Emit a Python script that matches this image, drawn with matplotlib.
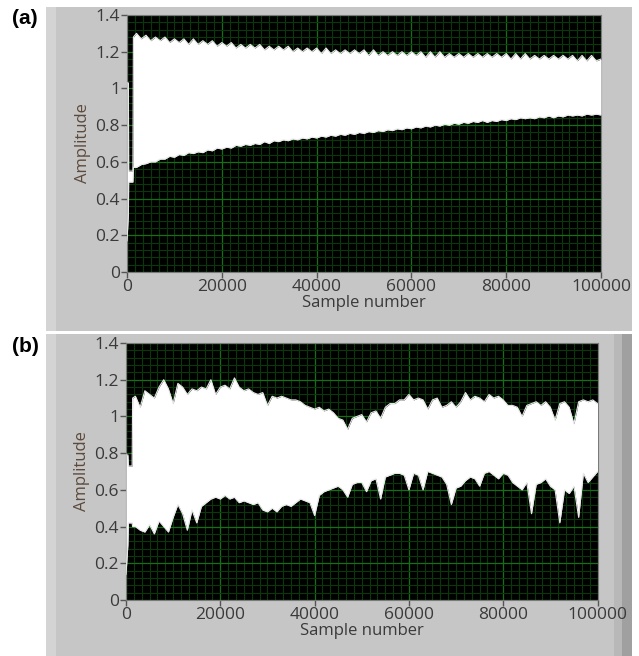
import matplotlib
matplotlib.use("Agg")
import matplotlib.pyplot as plt
from matplotlib.patches import Rectangle
from matplotlib.ticker import MultipleLocator

# panel (a): start-up transient, then samples every 1000 from 2000 on
a_head_x = [0, 300, 350, 1250, 1350]
a_head_up = [1.03, 1.03, 0.55, 0.55, 1.28]
a_head_lo = [0.17, 0.32, 0.49, 0.49, 0.57]
a_upper = [1.30, 1.27, 1.29, 1.26, 1.28, 1.26, 1.28, 1.25, 1.27, 1.25,
           1.27, 1.24, 1.27, 1.24, 1.26, 1.24, 1.26, 1.23, 1.25, 1.23,
           1.25, 1.22, 1.24, 1.22, 1.24, 1.22, 1.24, 1.21, 1.23, 1.21,
           1.23, 1.21, 1.23, 1.20, 1.22, 1.20, 1.22, 1.20, 1.22, 1.19,
           1.22, 1.19, 1.21, 1.19, 1.21, 1.19, 1.21, 1.19, 1.21, 1.18,
           1.21, 1.18, 1.20, 1.18, 1.20, 1.18, 1.20, 1.18, 1.20, 1.18,
           1.20, 1.17, 1.20, 1.17, 1.20, 1.17, 1.19, 1.17, 1.19, 1.17,
           1.19, 1.17, 1.19, 1.17, 1.19, 1.17, 1.19, 1.17, 1.19, 1.16,
           1.19, 1.16, 1.19, 1.16, 1.18, 1.16, 1.18, 1.16, 1.18, 1.16,
           1.18, 1.16, 1.18, 1.15, 1.18, 1.15, 1.18, 1.15, 1.16]
a_lower = [0.57, 0.585, 0.59, 0.60, 0.60, 0.615, 0.615, 0.63, 0.625, 0.64,
           0.635, 0.65, 0.645, 0.655, 0.65, 0.665, 0.66, 0.675, 0.67, 0.68,
           0.675, 0.69, 0.685, 0.695, 0.69, 0.70, 0.695, 0.71, 0.70, 0.715,
           0.71, 0.72, 0.715, 0.725, 0.72, 0.73, 0.725, 0.735, 0.73, 0.74,
           0.735, 0.745, 0.74, 0.75, 0.745, 0.755, 0.75, 0.76, 0.755, 0.765,
           0.76, 0.77, 0.765, 0.775, 0.77, 0.78, 0.775, 0.785, 0.78, 0.79,
           0.785, 0.795, 0.79, 0.80, 0.795, 0.805, 0.80, 0.81, 0.805, 0.815,
           0.81, 0.82, 0.815, 0.825, 0.815, 0.825, 0.82, 0.83, 0.825, 0.835,
           0.83, 0.84, 0.835, 0.84, 0.835, 0.845, 0.84, 0.85, 0.84, 0.85,
           0.845, 0.855, 0.85, 0.855, 0.85, 0.86, 0.855, 0.86, 0.855]

# panel (b)
b_head_x = [0, 400, 500, 1300, 1400]
b_head_up = [0.79, 0.79, 0.73, 0.73, 1.10]
b_head_lo = [0.14, 0.30, 0.42, 0.42, 0.40]
b_upper = [1.11, 1.05, 1.14, 1.12, 1.10, 1.16, 1.20, 1.15, 1.07, 1.18,
           1.16, 1.12, 1.15, 1.14, 1.16, 1.15, 1.20, 1.12, 1.16, 1.17,
           1.15, 1.21, 1.16, 1.14, 1.15, 1.13, 1.12, 1.13, 1.06, 1.11,
           1.10, 1.11, 1.10, 1.09, 1.09, 1.08, 1.06, 1.05, 1.04, 1.05,
           1.03, 1.04, 1.02, 0.99, 0.98, 0.93, 0.99, 1.00, 1.01, 0.97,
           1.02, 1.03, 0.99, 1.05, 1.07, 1.07, 1.09, 1.09, 1.12, 1.09,
           1.10, 1.09, 1.04, 1.09, 1.10, 1.05, 1.06, 1.08, 1.05, 1.08,
           1.13, 1.09, 1.11, 1.10, 1.08, 1.12, 1.10, 1.11, 1.09, 1.06,
           1.06, 1.05, 1.00, 1.06, 1.07, 1.08, 1.06, 1.08, 1.05, 0.98,
           1.07, 1.08, 1.05, 0.96, 1.08, 1.09, 1.08, 1.09, 1.07]
b_lower = [0.40, 0.38, 0.37, 0.41, 0.36, 0.43, 0.40, 0.37, 0.45, 0.52,
           0.47, 0.38, 0.49, 0.42, 0.51, 0.53, 0.55, 0.56, 0.55, 0.57,
           0.55, 0.56, 0.53, 0.54, 0.53, 0.52, 0.53, 0.49, 0.48, 0.50,
           0.48, 0.51, 0.52, 0.51, 0.53, 0.55, 0.54, 0.53, 0.46, 0.57,
           0.59, 0.60, 0.61, 0.62, 0.60, 0.56, 0.63, 0.64, 0.64, 0.59,
           0.65, 0.66, 0.55, 0.67, 0.68, 0.69, 0.69, 0.68, 0.60, 0.69,
           0.68, 0.60, 0.70, 0.69, 0.68, 0.67, 0.63, 0.52, 0.61, 0.62,
           0.65, 0.67, 0.66, 0.62, 0.69, 0.70, 0.68, 0.66, 0.69, 0.68,
           0.64, 0.62, 0.60, 0.64, 0.47, 0.63, 0.64, 0.66, 0.62, 0.60,
           0.42, 0.60, 0.58, 0.62, 0.45, 0.69, 0.64, 0.67, 0.70]

step = 1000
a_x = a_head_x + [2000 + i * step for i in range(len(a_upper))]
a_up = a_head_up + a_upper
a_lo = a_head_lo + a_lower
b_x = b_head_x + [2000 + i * step for i in range(len(b_upper))]
b_up = b_head_up + b_upper
b_lo = b_head_lo + b_lower

W, H = 639, 656
plt.rcParams['font.family'] = ['Open Sans', 'DejaVu Sans']
fig = plt.figure(figsize=(W / 100, H / 100), dpi=100)
fig.patch.set_facecolor('white')


def px_rect(x0, y0, x1, y1, color):
    # rectangle given in pixels from the top-left corner
    fig.add_artist(Rectangle((x0 / W, 1 - y1 / H), (x1 - x0) / W, (y1 - y0) / H,
                             transform=fig.transFigure, facecolor=color,
                             edgecolor='none', zorder=0))


# LabVIEW style gray frames
px_rect(46, 7, 632, 331, '#c6c6c6')
px_rect(46, 7, 56, 331, '#d4d4d4')
px_rect(46, 334, 632, 656, '#c6c6c6')
px_rect(46, 334, 56, 656, '#d4d4d4')
px_rect(614, 334, 622, 656, '#b8b8b8')
px_rect(622, 334, 632, 656, '#a0a0a0')

tick_col = '#3a3a3a'


def panel(rect, xs, up, lo):
    ax = fig.add_axes(rect)
    ax.set_facecolor('black')
    ax.fill_between(xs, lo, up, color='white', lw=0, zorder=3)
    ax.plot(xs, up, color='#e8e8e8', lw=0.8, zorder=4)
    ax.plot(xs, lo, color='#e8e8e8', lw=0.8, zorder=4)
    ax.set_xlim(0, 100000)
    ax.set_ylim(0, 1.4)
    ax.xaxis.set_major_locator(MultipleLocator(20000))
    ax.xaxis.set_minor_locator(MultipleLocator(20000 / 12))
    ax.yaxis.set_major_locator(MultipleLocator(0.2))
    ax.yaxis.set_minor_locator(MultipleLocator(0.04))
    ax.grid(which='major', color='#137013', lw=0.9, zorder=1)
    ax.grid(which='minor', color='#0a380a', lw=0.8, zorder=1)
    ax.set_axisbelow(True)
    ax.set_yticks([0, 0.2, 0.4, 0.6, 0.8, 1, 1.2, 1.4])
    ax.set_yticklabels(['0', '0.2', '0.4', '0.6', '0.8', '1', '1.2', '1.4'])
    ax.tick_params(which='major', length=4, width=1, color='#555555',
                   labelsize=12.5, labelcolor=tick_col, pad=1)
    ax.tick_params(which='minor', length=0)
    for s in ax.spines.values():
        s.set_color('#7a7a7a')
        s.set_linewidth(0.8)
    ax.set_xlabel('Sample number', fontsize=12, color=tick_col, labelpad=0)
    ax.set_ylabel('Amplitude', fontsize=12, color='#5c4a3c', labelpad=3)
    return ax


panel([127 / W, 1 - 272 / H, 474 / W, 257 / H], a_x, a_up, a_lo)
panel([126 / W, 1 - 600 / H, 471.5 / W, 257 / H], b_x, b_up, b_lo)

fig.text(12 / W, 1 - 19 / H, '(a)', fontsize=15, fontweight='bold',
         family='Liberation Sans', va='center', ha='left')
fig.text(12 / W, 1 - 347 / H, '(b)', fontsize=15, fontweight='bold',
         family='Liberation Sans', va='center', ha='left')

fig.savefig('out.png', dpi=100, facecolor=fig.get_facecolor())
